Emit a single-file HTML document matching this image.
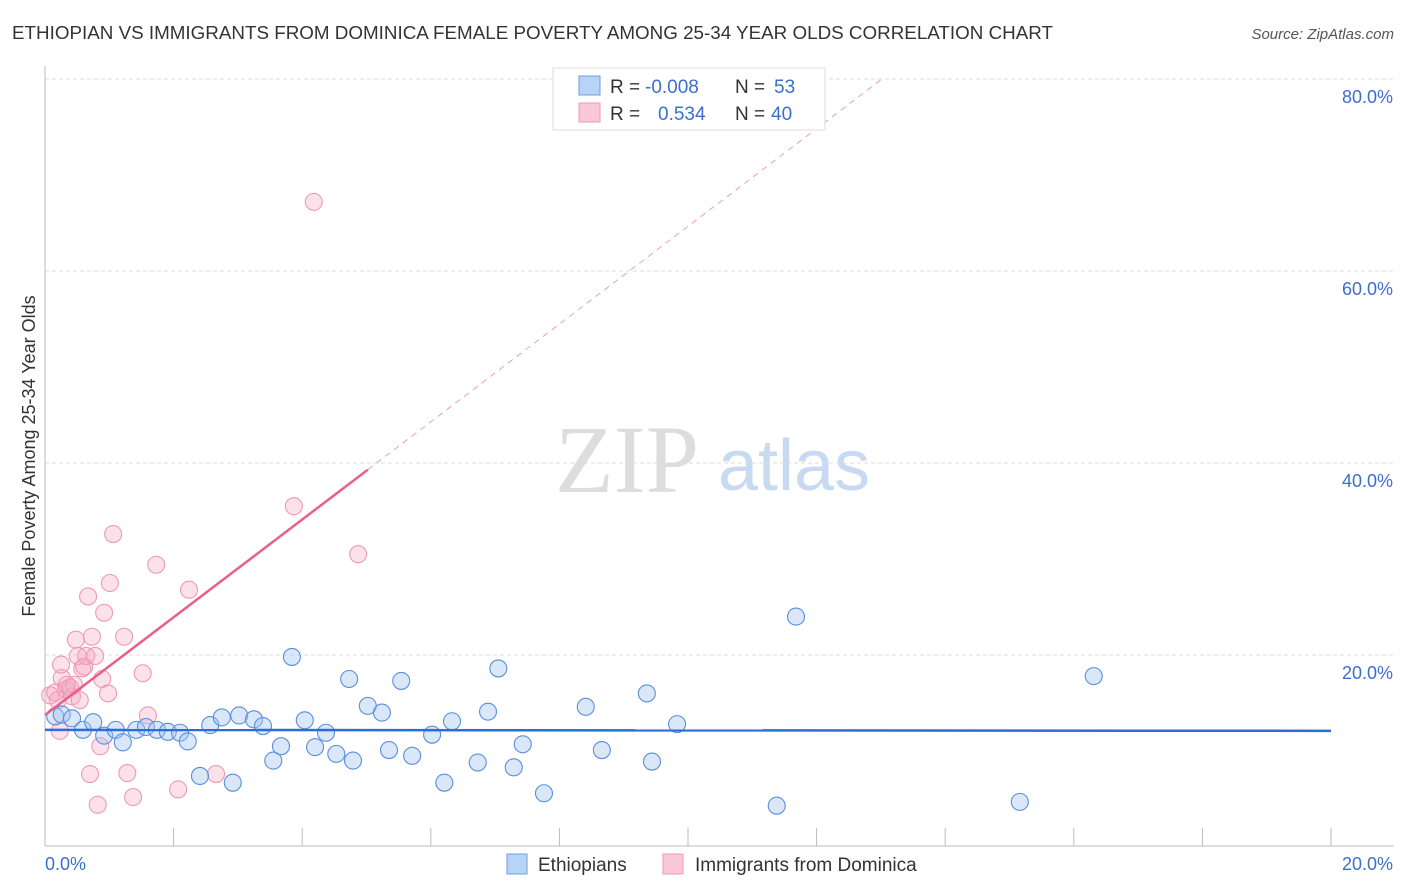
<!DOCTYPE html>
<html><head><meta charset="utf-8"><style>
body{margin:0;background:#fff;font-family:"Liberation Sans",sans-serif}
svg{display:block}
</style></head><body>
<svg id="chart" width="1406" height="892">
<text x="12" y="39" font-size="18" fill="#333" textLength="1041" lengthAdjust="spacingAndGlyphs">ETHIOPIAN VS IMMIGRANTS FROM DOMINICA FEMALE POVERTY AMONG 25-34 YEAR OLDS CORRELATION CHART</text>
<text x="1394" y="39" font-size="15" fill="#555" font-style="italic" text-anchor="end">Source: ZipAtlas.com</text>
<text x="35" y="456" font-size="18" fill="#333" text-anchor="middle" transform="rotate(-90 35 456)">Female Poverty Among 25-34 Year Olds</text>
<text x="555" y="492" font-size="96" fill="#ddd" font-family="Liberation Serif,serif">ZIP</text>
<text x="718" y="490" font-size="72" fill="#c8daf2">atlas</text>
<g id="grid"></g><g id="marks"></g>
<g>
<rect x="553" y="68" width="272" height="62" fill="#fff" stroke="#ddd"/>
<rect x="579" y="76" width="21" height="19" fill="#b8d4f5" stroke="#6a9fe0"/>
<rect x="579" y="103" width="21" height="19" fill="#f9c8d6" stroke="#ee9ab3"/>
<text x="610" y="93" font-size="19" fill="#333">R = <tspan fill="#3a6fd0" x="645">-0.008</tspan><tspan x="735">N = </tspan><tspan fill="#3a6fd0" x="774">53</tspan></text>
<text x="610" y="120" font-size="19" fill="#333">R = <tspan fill="#3a6fd0" x="658">0.534</tspan><tspan x="735">N = </tspan><tspan fill="#3a6fd0" x="771">40</tspan></text>
</g>
<g>
<rect x="507" y="854" width="20" height="20" fill="#b8d4f5" stroke="#6a9fe0"/>
<text x="538" y="871" font-size="19" fill="#333">Ethiopians</text>
<rect x="663" y="854" width="20" height="20" fill="#f9c8d6" stroke="#ee9ab3"/>
<text x="695" y="871" font-size="19" fill="#333">Immigrants from Dominica</text>
</g>
</svg>
<script>
const yTicks=[20,40,60,80];
const xTickLabels=["0.0%","20.0%"];
const blueX=[0.16,0.26,0.42,0.59,0.75,0.92,1.1,1.21,1.42,1.57,1.74,1.91,2.1,2.22,2.41,2.57,2.75,2.92,3.02,3.25,3.39,3.55,3.67,3.84,4.04,4.2,4.37,4.53,4.73,4.79,5.02,5.24,5.35,5.54,5.71,6.02,6.21,6.33,6.73,6.89,7.05,7.29,7.43,7.76,8.41,8.66,9.36,9.44,9.83,11.38,11.68,15.16,16.31];
const blueY=[13.6,13.8,13.4,12.2,13.0,11.6,12.2,10.9,12.2,12.5,12.2,12.0,11.9,11.0,7.4,12.7,13.5,6.7,13.7,13.3,12.6,9.0,10.5,19.8,13.2,10.4,11.9,9.7,17.5,9.0,14.7,14.0,10.1,17.3,9.5,11.7,6.7,13.1,8.8,14.1,18.6,8.3,10.7,5.6,14.6,10.1,16.0,8.9,12.8,4.3,24.0,4.7,17.8];
const pinkX=[0.08,0.16,0.2,0.23,0.26,0.25,0.33,0.39,0.42,0.45,0.48,0.51,0.58,0.61,0.64,0.67,0.7,0.73,0.78,0.82,0.86,0.89,0.92,0.98,1.01,1.06,1.23,1.28,1.37,1.52,1.6,1.73,2.07,2.24,2.66,3.87,4.18,4.87,0.34,0.54];
const pinkY=[15.8,16.1,15.3,12.1,17.6,19.0,16.4,16.6,15.7,16.9,21.6,19.9,18.6,18.8,19.9,26.1,7.6,21.9,19.9,4.4,10.5,17.5,24.4,16.0,27.5,32.6,21.9,7.7,5.2,18.1,13.7,29.4,6.0,26.8,7.6,35.5,67.2,30.5,16.9,15.3];
const blueTrend=[12.2,12.1];
const pinkTrend=[13.75,5.09];
const X=v=>45+v*64.3, Y=v=>847-v*9.6;
const NS="http://www.w3.org/2000/svg";
function mk(tag,attrs,parent){const e=document.createElementNS(NS,tag);for(const k in attrs)e.setAttribute(k,attrs[k]);parent.appendChild(e);return e;}
const g=document.getElementById('grid'), m=document.getElementById('marks');
yTicks.forEach(t=>{
 const l=mk('line',{x1:45,x2:1394,y1:Y(t),y2:Y(t),stroke:'#ddd','stroke-dasharray':'4,3'},g);
 
 
 const tx=mk('text',{x:1393,y:Y(t)+24,'font-size':18,fill:'#3a6fd0','text-anchor':'end'},g);tx.textContent=t.toFixed(1)+'%';
 
 
});
const ax=mk('line',{x1:45,x2:45,y1:66,y2:846,stroke:'#bbb'},g);


const bx=mk('line',{x1:45,x2:1394,y1:846,y2:846,stroke:'#bbb'},g);


for(let i=1;i<=10;i++){const t=mk('line',{x1:X(i*2),x2:X(i*2),y1:828,y2:846,stroke:'#bbb'},g);
 
 }
const xl0=mk('text',{x:45,y:870,'font-size':18,fill:'#3a6fd0'},g);xl0.textContent=xTickLabels[0];


const xl1=mk('text',{x:1393,y:870,'font-size':18,fill:'#3a6fd0','text-anchor':'end'},g);xl1.textContent=xTickLabels[1];


pinkX.forEach((x,i)=>{const c=mk('circle',{cx:X(x),cy:Y(pinkY[i]),r:8.5,fill:'rgba(246,170,195,0.35)',stroke:'#ee9ab3','stroke-width':1.1},m);
 
 });
blueX.forEach((x,i)=>{const c=mk('circle',{cx:X(x),cy:Y(blueY[i]),r:8.5,fill:'rgba(160,195,240,0.4)',stroke:'#5a8fdc','stroke-width':1.1},m);
 
 });
const bt=mk('line',{x1:X(0),y1:Y(blueTrend[0]),x2:X(20),y2:Y(blueTrend[1]),stroke:'#2a6dd6','stroke-width':2.5},m);


const pend=(80-pinkTrend[0])/pinkTrend[1];
const pd=mk('line',{x1:X(5.02),y1:Y(pinkTrend[0]+pinkTrend[1]*5.02),x2:X(pend),y2:Y(80),stroke:'#e8a0b5','stroke-width':1,'stroke-dasharray':'6,5'},m);


const pt=mk('line',{x1:X(0),y1:Y(pinkTrend[0]),x2:X(5.02),y2:Y(pinkTrend[0]+pinkTrend[1]*5.02),stroke:'#e8608a','stroke-width':2.5},m);


</script>
</body></html>
